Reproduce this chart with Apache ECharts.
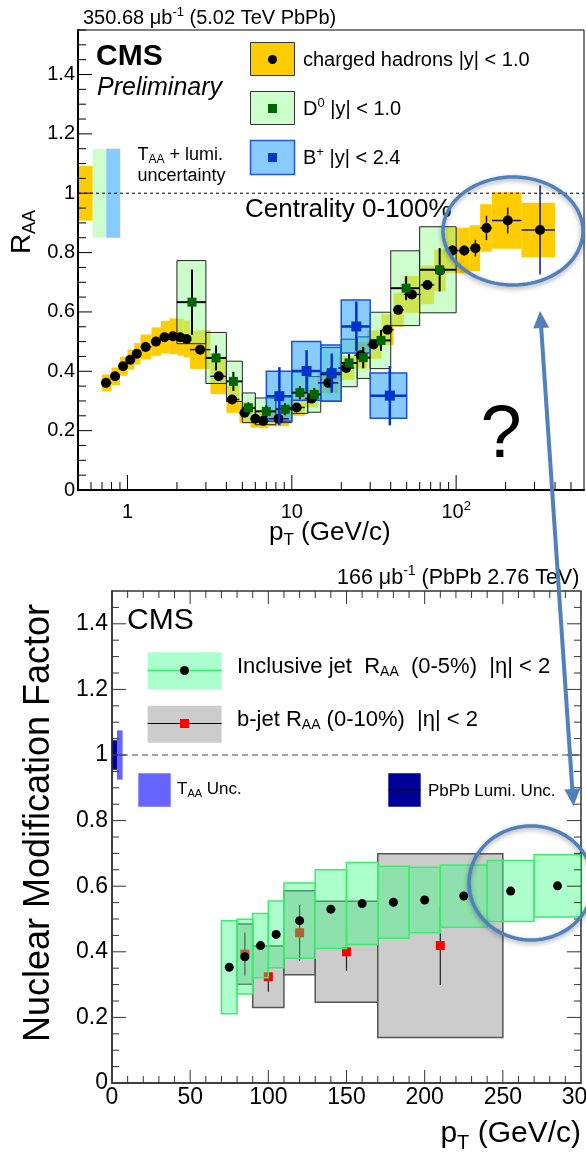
<!DOCTYPE html>
<html>
<head>
<meta charset="utf-8">
<script src="https://cdn.jsdelivr.net/npm/echarts@6/dist/echarts.min.js"></script>
<style>
html,body{margin:0;padding:0;background:#fff;}
#chart{width:586px;height:1159px;}
</style>
</head>
<body>
<div id="chart"></div>
<script>
// ===================== TOP PANEL DATA (5.02 TeV PbPb) =====================
// charged hadrons |y|<1.0
const chPt   = [0.74,0.84,0.94,1.04,1.14,1.29,1.49,1.68,1.89,2.09,2.29,2.77,3.59,4.33,5.16,6.0,6.7,8.3,10.7,13.2,16.7,21.4,26.3,31.4,38.2,44.4,53.8,66.9,80,95,112,131,153,206,324];
const chLo   = [0.7,0.8,0.9,1.0,1.1,1.2,1.4,1.6,1.8,2.0,2.2,2.4,3.2,4.0,4.8,5.6,6.4,7.2,9.6,12,14.4,19.2,24,28.8,35.2,41.6,48,60.8,73.6,86.4,103.6,120.8,140,165,250];
const chHi   = [0.8,0.9,1.0,1.1,1.2,1.4,1.6,1.8,2.0,2.2,2.4,3.2,4.0,4.8,5.6,6.4,7.2,9.6,12,14.4,19.2,24,28.8,35.2,41.6,48,60.8,73.6,86.4,103.6,120.8,140,165,250,400];
const chVal  = [0.361,0.383,0.417,0.439,0.459,0.482,0.500,0.515,0.518,0.515,0.509,0.473,0.383,0.305,0.260,0.240,0.233,0.240,0.278,0.308,0.361,0.411,0.454,0.490,0.540,0.607,0.659,0.691,0.740,0.807,0.807,0.815,0.883,0.908,0.876];
const chStat = [0.003,0.003,0.003,0.003,0.003,0.003,0.003,0.003,0.003,0.003,0.003,0.004,0.004,0.004,0.004,0.004,0.004,0.005,0.005,0.006,0.006,0.007,0.008,0.009,0.010,0.012,0.012,0.014,0.016,0.018,0.018,0.028,0.041,0.044,0.150];
const chSys  = [0.028,0.030,0.032,0.034,0.036,0.042,0.048,0.055,0.060,0.062,0.062,0.065,0.060,0.045,0.035,0.030,0.025,0.025,0.028,0.030,0.035,0.040,0.045,0.048,0.052,0.057,0.062,0.065,0.070,0.077,0.077,0.077,0.080,0.095,0.092];

// D0 |y|<1.0
const d0Pt   = [2.47,3.46,4.41,5.44,7.0,9.1,11.2,13.7,17.3,22.3,27.2,34.9,49.6,79.4];
const d0Lo   = [2,3,4,5,6,8,10,12.5,15,20,25,30,40,60];
const d0Hi   = [3,4,5,6,8,10,12.5,15,20,25,30,40,60,100];
const d0Val  = [0.633,0.445,0.366,0.277,0.265,0.272,0.328,0.322,0.390,0.428,0.446,0.504,0.680,0.742];
const d0Stat = [0.110,0.042,0.032,0.018,0.020,0.020,0.022,0.022,0.025,0.030,0.036,0.035,0.040,0.073];
const d0Sys  = [0.140,0.086,0.068,0.050,0.045,0.045,0.070,0.060,0.090,0.080,0.070,0.095,0.126,0.145];

// B+ |y|<2.4
const bpPt   = [8.4,12.3,17.5,24.7,39.5];
const bpLo   = [7,10,15,20,30];
const bpHi   = [10,15,20,30,50];
const bpVal  = [0.316,0.401,0.394,0.551,0.318];
const bpStat = [0.098,0.070,0.066,0.084,0.100];
const bpSys  = [0.084,0.099,0.095,0.089,0.076];

// T_AA + lumi uncertainty boxes at RAA = 1 (charged, D0, B+)
const uncLo   = [0.5,0.615,0.742];
const uncHi   = [0.615,0.742,0.903];
const uncHalf = [0.092,0.150,0.150];

// ===================== BOTTOM PANEL DATA (2.76 TeV PbPb) =====================
const jetPt  = [75,85,95,105,120,140,160,180,200,225,255,285];
const jetLo  = [70,80,90,100,110,130,150,170,190,210,240,270];
const jetHi  = [80,90,100,110,130,150,170,190,210,240,270,300];
const jetVal = [0.353,0.385,0.419,0.453,0.495,0.530,0.547,0.551,0.558,0.570,0.585,0.601];
const jetSys = [0.142,0.114,0.098,0.102,0.115,0.120,0.125,0.110,0.100,0.095,0.093,0.095];

const bjPt   = [85,100,120,150,210];
const bjLo   = [80,90,110,130,170];
const bjHi   = [90,110,130,170,250];
const bjVal  = [0.393,0.324,0.458,0.400,0.419];
const bjStat = [0.066,0.046,0.085,0.058,0.120];
const bjSys  = [0.092,0.094,0.128,0.154,0.280];

// Lumi (navy) and T_AA (light blue) uncertainty boxes at 1
const nmfUncLo   = [0,3.2];
const nmfUncHi   = [3.2,6.8];
const nmfUncHalf = [0.045,0.075];

// ===================== TICK LABELS =====================
const topXTicks  = [1,10,100];
const topXLabels = ['{n|1}','{n|10}','{n|10}{sup|2}'];

// ===================== HELPERS =====================
const FF = "'Liberation Sans', Arial, Helvetica, sans-serif";
function richFor(F){
  const P0 = Math.round(0.12*F), s = Math.round(0.65*F);
  return {
    n:  {fontSize:F, fontFamily:FF, verticalAlign:'top', padding:[P0,0,0,0]},
    sup:{fontSize:s, fontFamily:FF, verticalAlign:'top', padding:[0,0,0,0]},
    sub:{fontSize:s, fontFamily:FF, verticalAlign:'top', padding:[P0+Math.round(0.45*F),0,0,0]}
  };
}
function txt(x,y,text,F,o){
  o = o||{};
  return {type:'text', x:x, y:y, rotation:o.rot||0, z:50, silent:true,
    style:{text:text, rich:richFor(F), fill:o.fill||'#000', fontSize:F, fontFamily:o.family||FF,
      fontWeight:o.weight||'normal', fontStyle:o.italic?'italic':'normal',
      align:o.align||'left', verticalAlign:'middle'}};
}
function rows(xs, ys, lo, hi, e){ return xs.map((x,i)=>[x, ys[i], lo[i], hi[i], e[i]]); }

function boxSeries(xi, yi, data, z, fill, stroke, lw){
  return {type:'custom', xAxisIndex:xi, yAxisIndex:yi, z:z, silent:true, clip:true, data:data,
    renderItem:function(p, api){
      const y=api.value(1), lo=api.value(2), hi=api.value(3), s=api.value(4);
      const a=api.coord([lo, y+s]), b=api.coord([hi, y-s]);
      const f = Array.isArray(fill) ? fill[p.dataIndex] : fill;
      return {type:'rect', shape:{x:a[0], y:a[1], width:b[0]-a[0], height:b[1]-a[1]},
        style:{fill:f, stroke:stroke||null, lineWidth:lw||0}};
    }};
}
function errSeries(xi, yi, data, z, color, lw, horiz){
  return {type:'custom', xAxisIndex:xi, yAxisIndex:yi, z:z, silent:true, clip:true, data:data,
    renderItem:function(p, api){
      const x=api.value(0), y=api.value(1), lo=api.value(2), hi=api.value(3), s=api.value(4);
      const c=api.coord([x,y]), t=api.coord([x,y+s]), b=api.coord([x,y-s]);
      const ch=[{type:'line', shape:{x1:c[0], y1:t[1], x2:c[0], y2:b[1]}, style:{stroke:color, lineWidth:lw}}];
      if (horiz){
        const l=api.coord([lo,y]), r=api.coord([hi,y]);
        ch.push({type:'line', shape:{x1:l[0], y1:c[1], x2:r[0], y2:c[1]}, style:{stroke:color, lineWidth:lw}});
      }
      return {type:'group', children:ch};
    }};
}
function tickSeries(xi, yi, data, orient, color){
  // data: [xval, yval, length]  (x ticks: vertical, y ticks: horizontal)
  return {type:'custom', xAxisIndex:xi, yAxisIndex:yi, z:20, silent:true, clip:false, data:data,
    renderItem:function(p, api){
      const c=api.coord([api.value(0), api.value(1)]), L=api.value(2);
      const shape = orient==='x' ? {x1:c[0], y1:c[1], x2:c[0], y2:c[1]-L} : {x1:c[0], y1:c[1], x2:c[0]+L, y2:c[1]};
      return {type:'line', shape:shape, style:{stroke:color, lineWidth:1}};
    }};
}
function scat(xi, yi, xs, ys, z, symbol, size, color){
  return {type:'scatter', xAxisIndex:xi, yAxisIndex:yi, z:z, silent:true, symbol:symbol, symbolSize:size,
    itemStyle:{color:color, opacity:1}, data: xs.map((x,i)=>[x, ys[i]])};
}
const yFmt = v => { const k=Math.round(v*5); if (Math.abs(v*5-k)>1e-6) return ''; return k===0?'0':(k===5?'1':v.toFixed(1)); };

// ---- tick position lists ----
const topXTickData=[], topYTickData=[], botXTickData=[], botYTickData=[];
topXTicks.forEach(v=>topXTickData.push([v,0,15]));
for (let e=-1;e<=2;e++) for (let m=2;m<=9;m++){ const v=m*Math.pow(10,e); if (v>0.5 && v<600) topXTickData.push([v,0,8]); }
for (let k=1;k<=31;k++){ const v=k*0.05; topYTickData.push([0.5, v, (k%4===0)?14:8]); }
for (let v=10; v<300; v+=10){ const L=(v%50===0)?13:7; botXTickData.push([v,0,L]); botXTickData.push([v,1.5,-L]); }
for (let k=1;k<30;k++){ const v=k*0.05, L=(k%4===0)?14:7; botYTickData.push([0,v,L]); botYTickData.push([300,v,-L]); }

// ---- ellipse / arrow helpers (annotation graphics) ----
function ellipsePts(cx,cy,rx,ry){ const pts=[]; for(let i=0;i<96;i++){const t=2*Math.PI*i/96; pts.push([cx+rx*Math.cos(t), cy+ry*Math.sin(t)]);} return pts; }
function arrowHead(tip, from, len, hw){
  const dx=tip[0]-from[0], dy=tip[1]-from[1], d=Math.hypot(dx,dy), ux=dx/d, uy=dy/d;
  const bx=tip[0]-ux*len, by=tip[1]-uy*len;
  return [[tip[0],tip[1]],[bx-uy*hw, by+ux*hw],[bx+uy*hw, by-ux*hw]];
}
const BLUE='#4F81BD';
const arrTop=[540,311], arrBot=[573.5,806];

const option = {
  animation:false,
  backgroundColor:'#fff',
  grid:[
    {left:78, top:30, width:506, height:460, show:true, borderColor:'#000', borderWidth:1, outerBoundsMode:'none', containLabel:false},
    {left:112, top:591, width:469, height:492, show:true, borderColor:'#333', borderWidth:1.5, outerBoundsMode:'none', containLabel:false}
  ],
  xAxis:[
    {type:'log', logBase:10, gridIndex:0, min:0.5, max:600, z:20,
      axisLine:{show:true, onZero:false, lineStyle:{color:'#000', width:2}},
      axisTick:{show:false}, axisLabel:{show:false}, splitLine:{show:false}, minorTick:{show:false}},
    {type:'value', gridIndex:1, min:0, max:300, interval:50, z:20,
      axisLine:{show:true, onZero:false, lineStyle:{color:'#333', width:1.5}},
      axisTick:{show:false}, splitLine:{show:false},
      axisLabel:{show:true, margin:3, color:'#000', fontSize:23, fontFamily:FF, hideOverlap:false, showMinLabel:true, showMaxLabel:true}}
  ],
  yAxis:[
    {type:'value', gridIndex:0, min:0, max:1.55, interval:0.2, z:20,
      axisLine:{show:true, onZero:false, lineStyle:{color:'#000', width:2}},
      axisTick:{show:false}, splitLine:{show:false},
      axisLabel:{show:true, margin:3, color:'#000', fontSize:20, fontFamily:FF, formatter:yFmt}},
    {type:'value', gridIndex:1, min:0, max:1.5, interval:0.2, z:20,
      axisLine:{show:true, onZero:false, lineStyle:{color:'#333', width:1.5}},
      axisTick:{show:false}, splitLine:{show:false},
      axisLabel:{show:true, margin:4, color:'#000', fontSize:23, fontFamily:FF, formatter:yFmt}}
  ],
  series:[
    // ---------- top panel ----------
    boxSeries(0,0, uncLo.map((lo,i)=>[lo,1,lo,uncHi[i],uncHalf[i]]), 2, ['#FFCC00','#CCFFCC','#88CCFF']),
    boxSeries(0,0, rows(chPt,chVal,chLo,chHi,chSys), 3, '#FFCC00'),
    boxSeries(0,0, rows(d0Pt,d0Val,d0Lo,d0Hi,d0Sys), 4, 'rgba(156,255,156,0.51)', '#222', 1),
    boxSeries(0,0, rows(bpPt,bpVal,bpLo,bpHi,bpSys), 5, 'rgba(17,153,255,0.5)', '#1A4FE0', 1.5),
    {type:'line', xAxisIndex:0, yAxisIndex:0, z:6, silent:true, symbol:'none', data:[[0.5,1],[600,1]],
      lineStyle:{color:'#000', width:1, type:[3,3]}},
    errSeries(0,0, rows(chPt,chVal,chLo,chHi,chStat), 7, '#10109A', 1.5, true),
    scat(0,0, chPt, chVal, 8, 'circle', 10, '#000'),
    errSeries(0,0, rows(d0Pt,d0Val,d0Lo,d0Hi,d0Stat), 9, '#000', 2, true),
    scat(0,0, d0Pt, d0Val, 10, 'rect', 9, '#006600'),
    errSeries(0,0, rows(bpPt,bpVal,bpLo,bpHi,bpStat), 11, '#0033CC', 2.5, true),
    scat(0,0, bpPt, bpVal, 12, 'rect', 10, '#0033CC'),
    tickSeries(0,0, topXTickData, 'x', '#000'),
    tickSeries(0,0, topYTickData, 'y', '#000'),
    {type:'custom', xAxisIndex:0, yAxisIndex:0, z:20, silent:true, clip:false, data: topXTicks.map(v=>[v,0]),
      renderItem:function(p, api){
        const c=api.coord([api.value(0),0]);
        return {type:'text', x:c[0], y:c[1]+21, style:{text:topXLabels[p.dataIndex], rich:richFor(20), fill:'#000', fontSize:20, fontFamily:FF, align:'center', verticalAlign:'middle'}};
      }},
    // ---------- bottom panel ----------
    boxSeries(1,1, nmfUncLo.map((lo,i)=>[lo,1,lo,nmfUncHi[i],nmfUncHalf[i]]), 2, ['#000099','#6666FF']),
    boxSeries(1,1, rows(bjPt,bjVal,bjLo,bjHi,bjSys), 3, '#CCCCCC', '#555', 1.5),
    errSeries(1,1, rows(bjPt,bjVal,bjLo,bjHi,bjStat), 4, '#222', 1.2, false),
    scat(1,1, bjPt, bjVal, 5, 'rect', 9, '#FF0000'),
    boxSeries(1,1, rows(jetPt,jetVal,jetLo,jetHi,jetSys), 6, 'rgba(51,255,128,0.4)', '#3DEB6E', 1.5),
    scat(1,1, jetPt, jetVal, 7, 'circle', 9, '#000'),
    {type:'line', xAxisIndex:1, yAxisIndex:1, z:8, silent:true, symbol:'none', data:[[0,1],[300,1]],
      lineStyle:{color:'#444', width:1, type:[6,4]}},
    tickSeries(1,1, botXTickData, 'x', '#333'),
    tickSeries(1,1, botYTickData, 'y', '#333')
  ],
  graphic:{elements:[
    // ---- top panel texts ----
    txt(83, 17, '{n|350.68 \u03bcb}{sup|-1}{n| (5.02 TeV PbPb)}', 20),
    {type:'text', x:96, y:57, z:50, silent:true, style:{text:'CMS', fill:'#000', fontSize:30, fontWeight:'bold', fontFamily:FF, align:'left', verticalAlign:'middle'}},
    {type:'text', x:97, y:88, z:50, silent:true, style:{text:'Preliminary', fill:'#000', fontSize:25, fontStyle:'italic', fontFamily:FF, align:'left', verticalAlign:'middle'}},
    {type:'rect', z:50, silent:true, shape:{x:250.5, y:42.5, width:44, height:33}, style:{fill:'#FFCC00', stroke:'#333', lineWidth:1}},
    {type:'circle', z:51, silent:true, shape:{cx:272.5, cy:59.5, r:4.5}, style:{fill:'#000'}},
    txt(303, 59, '{n|charged hadrons |y| < 1.0}', 20),
    {type:'rect', z:50, silent:true, shape:{x:250.5, y:91.5, width:44, height:33}, style:{fill:'#CCFFCC', stroke:'#333', lineWidth:1}},
    {type:'rect', z:51, silent:true, shape:{x:268, y:104, width:9, height:9}, style:{fill:'#006600'}},
    txt(303, 108, '{n|D}{sup|0}{n| |y| < 1.0}', 20),
    {type:'rect', z:50, silent:true, shape:{x:250.5, y:140.5, width:44, height:34}, style:{fill:'#88CCFF', stroke:'#2255DD', lineWidth:1.5}},
    {type:'rect', z:51, silent:true, shape:{x:268, y:153, width:9, height:9}, style:{fill:'#0033CC'}},
    txt(303, 157, '{n|B}{sup|+}{n| |y| < 2.4}', 20),
    txt(137.5, 155, '{n|T}{sub|AA}{n| + lumi.}', 18),
    txt(137.5, 175, '{n|uncertainty}', 18),
    txt(245, 208, '{n|Centrality 0-100%}', 26),
    txt(269, 533, '{n|p}{sub|T}{n| (GeV/c)}', 26),
    txt(22, 232, '{n|R}{sub|AA}', 28, {rot:Math.PI/2, align:'center'}),
    // ---- bottom panel texts ----
    txt(337, 577, '{n|166 \u03bcb}{sup|-1}{n| (PbPb 2.76 TeV)}', 21.5),
    {type:'text', x:127, y:621, z:50, silent:true, style:{text:'CMS', fill:'#000', fontSize:30, fontFamily:FF, align:'left', verticalAlign:'middle'}},
    {type:'rect', z:50, silent:true, shape:{x:147.6, y:652.3, width:74, height:37}, style:{fill:'#AAFFCC'}},
    {type:'line', z:51, silent:true, shape:{x1:147.6, y1:670.5, x2:221.6, y2:670.5}, style:{stroke:'#33EE66', lineWidth:1.5}},
    {type:'circle', z:52, silent:true, shape:{cx:184.5, cy:670.5, r:4.5}, style:{fill:'#000'}},
    txt(237, 666, '{n|Inclusive jet  R}{sub|AA}{n|  (0-5%)  |\u03b7| < 2}', 22),
    {type:'rect', z:50, silent:true, shape:{x:147.6, y:705.7, width:74, height:37}, style:{fill:'#CCCCCC'}},
    {type:'line', z:51, silent:true, shape:{x1:147.6, y1:723.5, x2:221.6, y2:723.5}, style:{stroke:'#000', lineWidth:1.2}},
    {type:'rect', z:52, silent:true, shape:{x:180, y:719, width:9, height:9}, style:{fill:'#FF0000'}},
    txt(237, 719, '{n|b-jet R}{sub|AA}{n| (0-10%)  |\u03b7| < 2}', 22),
    {type:'rect', z:50, silent:true, shape:{x:138.3, y:773.3, width:32.4, height:33.4}, style:{fill:'#6666FF'}},
    txt(177, 789, '{n|T}{sub|AA}{n| Unc.}', 17),
    {type:'rect', z:50, silent:true, shape:{x:388.3, y:773.3, width:32.4, height:33.4}, style:{fill:'#000099'}},
    {type:'line', z:51, silent:true, shape:{x1:388.3, y1:790, x2:420.7, y2:790}, style:{stroke:'#000', lineWidth:1.2}},
    txt(428, 790, '{n|PbPb Lumi. Unc.}', 17),
    txt(581, 1134, '{n|p}{sub|T}{n| (GeV/c)}', 30, {align:'right'}),
    txt(37, 823, '{n|Nuclear Modification Factor}', 36, {rot:Math.PI/2, align:'center'}),
    // ---- annotations ----
    {type:'polygon', z:100, silent:true, shape:{points:ellipsePts(513,231,70,54)}, style:{fill:'none', stroke:BLUE, lineWidth:3.5, shadowBlur:5, shadowColor:'rgba(0,0,0,0.35)', shadowOffsetY:2}},
    {type:'polygon', z:100, silent:true, shape:{points:ellipsePts(531,883,62,57)}, style:{fill:'none', stroke:BLUE, lineWidth:3.5, shadowBlur:5, shadowColor:'rgba(0,0,0,0.35)', shadowOffsetY:2}},
    {type:'line', z:100, silent:true, shape:{x1:arrTop[0]+1, y1:arrTop[1]+14, x2:arrBot[0]-1, y2:arrBot[1]-14}, style:{stroke:BLUE, lineWidth:4}},
    {type:'polygon', z:100, silent:true, shape:{points:arrowHead(arrTop, arrBot, 17, 8)}, style:{fill:BLUE}},
    {type:'polygon', z:100, silent:true, shape:{points:arrowHead(arrBot, arrTop, 17, 8)}, style:{fill:BLUE}},
    {type:'text', x:501, y:437, z:100, silent:true, style:{text:'?', fill:'#000', fontSize:74, fontFamily:FF, align:'center', verticalAlign:'middle'}}
  ]}
};
const chart = echarts.init(document.getElementById('chart'), null, {renderer:'canvas'});
chart.setOption(option);
</script>
</body>
</html>
